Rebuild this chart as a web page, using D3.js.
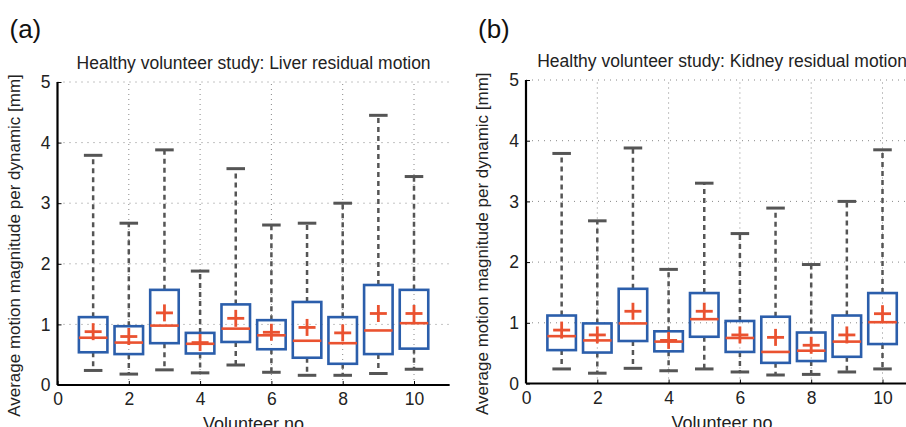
<!DOCTYPE html>
<html>
<head>
<meta charset="utf-8">
<script src="https://cdn.jsdelivr.net/npm/d3@7"></script>
<style>
  body { margin: 0; background: #fff; }
  svg { font-family: "Liberation Sans", Arial, sans-serif; }
  .grid line { stroke: #888; stroke-width: 1; stroke-dasharray: 1,5; }
</style>
</head>
<body>
<div id="plot"></div>
<script>
const volunteers = [1, 2, 3, 4, 5, 6, 7, 8, 9, 10]
const xTicks = [0, 2, 4, 6, 8, 10]
const yTicks = [0, 1, 2, 3, 4, 5]

// liver (a)
const liverMin  = [0.24, 0.18, 0.25, 0.20, 0.33, 0.21, 0.16, 0.16, 0.19, 0.26]
const liverQ1   = [0.54, 0.51, 0.69, 0.52, 0.71, 0.59, 0.45, 0.35, 0.51, 0.60]
const liverMed  = [0.78, 0.70, 0.98, 0.68, 0.93, 0.82, 0.73, 0.69, 0.90, 1.02]
const liverQ3   = [1.12, 0.97, 1.57, 0.86, 1.33, 1.07, 1.37, 1.12, 1.65, 1.57]
const liverMax  = [3.79, 2.67, 3.88, 1.88, 3.57, 2.64, 2.67, 3.00, 4.45, 3.44]
const liverMean = [0.88, 0.80, 1.19, 0.70, 1.10, 0.87, 0.95, 0.86, 1.18, 1.18]

// kidney (b)
const kidneyMin  = [0.24, 0.17, 0.25, 0.21, 0.24, 0.19, 0.14, 0.15, 0.19, 0.24]
const kidneyQ1   = [0.55, 0.51, 0.70, 0.53, 0.77, 0.52, 0.34, 0.37, 0.44, 0.65]
const kidneyMed  = [0.78, 0.71, 0.99, 0.69, 1.06, 0.75, 0.52, 0.54, 0.69, 1.01]
const kidneyQ3   = [1.12, 0.99, 1.56, 0.86, 1.49, 1.03, 1.10, 0.84, 1.12, 1.49]
const kidneyMax  = [3.79, 2.68, 3.88, 1.88, 3.30, 2.47, 2.89, 1.96, 3.00, 3.85]
const kidneyMean = [0.88, 0.80, 1.19, 0.71, 1.19, 0.80, 0.76, 0.63, 0.80, 1.15]

const W = 906, H = 427
const blue = '#2b5eab', red = '#ea5230', gray = '#555'

const svg = d3.select('#plot').append('svg')
  .attr('width', W)
  .attr('height', H)

function panel(o) {
  const x = d3.scaleLinear().domain([0, 11]).range([o.left, o.left + 11 * 35.65])
  const y = d3.scaleLinear().domain([0, 5]).range([o.bottom, o.top])
  const g = svg.append('g')

  const rows = volunteers.map((v, i) => ({
    v, min: o.min[i], q1: o.q1[i], med: o.med[i], q3: o.q3[i], max: o.max[i], mean: o.mean[i]
  }))

  //grid
  const grid = g.append('g').classed('grid', true)
  grid.selectAll('.hg').data(yTicks.filter(d => d > 0)).enter().append('line')
    .attr('x1', x(0)).attr('x2', x(11))
    .attr('y1', d => y(d)).attr('y2', d => y(d))
  grid.selectAll('.vg').data(xTicks.filter(d => d > 0)).enter().append('line')
    .attr('x1', d => x(d)).attr('x2', d => x(d))
    .attr('y1', y(0)).attr('y2', y(5))
    .style('stroke-dasharray', '1,4')

  //whiskers
  g.selectAll('.wu').data(rows).enter().append('line')
    .attr('x1', d => x(d.v)).attr('x2', d => x(d.v))
    .attr('y1', d => y(d.q3)).attr('y2', d => y(d.max))
    .attr('stroke', gray).attr('stroke-width', 2.5).attr('stroke-dasharray', '5,4')
  g.selectAll('.wl').data(rows).enter().append('line')
    .attr('x1', d => x(d.v)).attr('x2', d => x(d.v))
    .attr('y1', d => y(d.q1)).attr('y2', d => y(d.min))
    .attr('stroke', gray).attr('stroke-width', 2.5).attr('stroke-dasharray', '5,4')
  //caps
  const cap = 0.26
  g.selectAll('.cu').data(rows).enter().append('line')
    .attr('x1', d => x(d.v - cap)).attr('x2', d => x(d.v + cap))
    .attr('y1', d => y(d.max)).attr('y2', d => y(d.max))
    .attr('stroke', gray).attr('stroke-width', 3)
  g.selectAll('.cl').data(rows).enter().append('line')
    .attr('x1', d => x(d.v - cap)).attr('x2', d => x(d.v + cap))
    .attr('y1', d => y(d.min)).attr('y2', d => y(d.min))
    .attr('stroke', gray).attr('stroke-width', 3)

  //boxes
  const bw = 0.4
  g.selectAll('.box').data(rows).enter().append('rect')
    .attr('x', d => x(d.v - bw))
    .attr('width', x(bw * 2) - x(0))
    .attr('y', d => y(d.q3))
    .attr('height', d => y(d.q1) - y(d.q3))
    .attr('fill', 'none').attr('stroke', blue).attr('stroke-width', 2.6)
  //median
  g.selectAll('.med').data(rows).enter().append('line')
    .attr('x1', d => x(d.v - bw)).attr('x2', d => x(d.v + bw))
    .attr('y1', d => y(d.med)).attr('y2', d => y(d.med))
    .attr('stroke', red).attr('stroke-width', 2.6)
  //mean plus
  const ph = 8.5
  g.selectAll('.mh').data(rows).enter().append('line')
    .attr('x1', d => x(d.v) - ph).attr('x2', d => x(d.v) + ph)
    .attr('y1', d => y(d.mean)).attr('y2', d => y(d.mean))
    .attr('stroke', red).attr('stroke-width', 2.8)
  g.selectAll('.mv').data(rows).enter().append('line')
    .attr('x1', d => x(d.v)).attr('x2', d => x(d.v))
    .attr('y1', d => y(d.mean) - ph).attr('y2', d => y(d.mean) + ph)
    .attr('stroke', red).attr('stroke-width', 2.8)

  //axes
  const yaxis = g.append('g')
    .attr('transform', `translate(${x(0)},0)`)
    .call(d3.axisLeft(y).tickValues(yTicks).tickFormat(d3.format('d')).tickSize(-4).tickPadding(7))
  const xaxis = g.append('g')
    .attr('transform', `translate(0,${y(0)})`)
    .call(d3.axisBottom(x).tickValues(xTicks).tickFormat(d3.format('d')).tickSize(-4).tickPadding(8))
  ;[yaxis, xaxis].forEach(a => {
    a.select('.domain').attr('stroke', '#000').attr('stroke-width', 2.2)
    a.selectAll('.tick line').attr('stroke', '#000')
    a.selectAll('.tick text').attr('font-size', 17.5).attr('fill', '#222')
      .style('font-family', '"Liberation Sans", Arial, sans-serif')
  })
  yaxis.select('.domain').attr('d', `M0,${y(0)}V${y(5)}`)
  xaxis.select('.domain').attr('d', `M${x(0)},0H${x(11)}`)

  //texts
  g.append('text')
    .attr('x', (x(0) + x(11)) / 2).attr('y', o.top - 13)
    .attr('text-anchor', 'middle').attr('font-size', 17.5).attr('fill', '#222')
    .text(o.title)
  g.append('text')
    .attr('x', (x(0) + x(11)) / 2).attr('y', y(0) + 45)
    .attr('text-anchor', 'middle').attr('font-size', 18).attr('fill', '#222')
    .text('Volunteer no')
  g.append('text')
    .attr('transform', `translate(${o.left - 38},${(y(0) + y(5)) / 2 + 12}) rotate(-90)`)
    .attr('text-anchor', 'middle').attr('font-size', 17).attr('fill', '#222')
    .text('Average motion magnitude per dynamic [mm]')
  g.append('text')
    .attr('x', o.left - 48).attr('y', 38)
    .attr('font-size', 26).attr('fill', '#111')
    .text(o.label)
}

panel({left: 57.5, top: 82, bottom: 385, title: 'Healthy volunteer study: Liver residual motion', label: '(a)',
  min: liverMin, q1: liverQ1, med: liverMed, q3: liverQ3, max: liverMax, mean: liverMean})
panel({left: 526, top: 80, bottom: 383.5, title: 'Healthy volunteer study: Kidney residual motion', label: '(b)',
  min: kidneyMin, q1: kidneyQ1, med: kidneyMed, q3: kidneyQ3, max: kidneyMax, mean: kidneyMean})
</script>
</body>
</html>
